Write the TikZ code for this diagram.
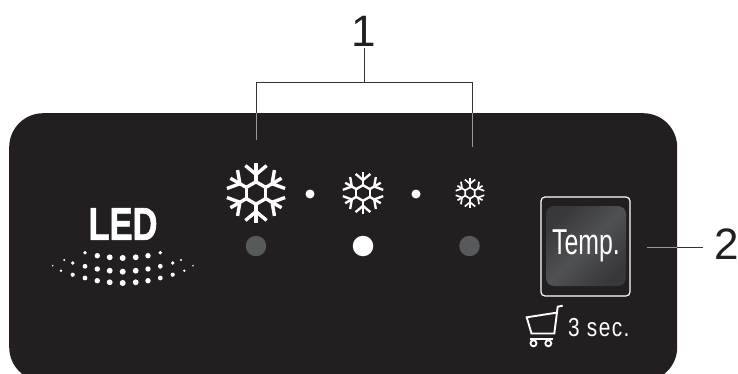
\documentclass[tikz,border=0pt]{standalone}
\usepackage{fontspec}
\setmainfont{Liberation Sans}
\definecolor{panel}{HTML}{231F20}
\definecolor{dimled}{HTML}{58595B}
\definecolor{keymid}{HTML}{505153}
\definecolor{keyedge}{HTML}{38383A}
\definecolor{leadgray}{HTML}{9A9A9A}
\tikzset{
  x=1pt,y=-1pt,
  lead/.style={line width=0.9pt,draw=black!80},
  leadin/.style={line width=0.9pt,draw=leadgray},
  callout/.style={inner sep=0pt,font=\fontsize{44}{44}\selectfont,text=panel},
  led/.style={circle,inner sep=0pt,minimum size=20.5pt},
  sep dot/.style={circle,fill=white,inner sep=0pt,minimum size=9pt},
  pics/flake/.style={code={
    \foreach \a in {30,90,150,210,270,330}{
      \begin{scope}[rotate=\a]
        \draw[white,line width=#1*0.115pt]
          (#1*0.38,0) -- (#1*1.0,0);
        \draw[white,line width=#1*0.115pt]
          (#1*0.93,#1*0.36) -- (#1*0.63,0) -- (#1*0.93,-#1*0.36);
        \draw[white,line width=#1*0.115pt,line cap=round]
          (#1*0.38,0) -- ++(120:#1*0.38);
      \end{scope}
    }
  }},
}
\newcommand{\ledspot}[3]{\fill[white] (#1,#2) circle[radius=#3pt];}
\begin{document}
\begin{tikzpicture}
\useasboundingbox (0,0) rectangle (738,374);
\begin{scope}
\clip (0,0) rectangle (738,374);
\node[fill=panel,rounded corners=34pt,minimum width=668pt,minimum height=268pt,inner sep=0pt,anchor=north west] (panel) at (9,113) {};
\end{scope}
% callouts
\node[callout] (one) at (364,31) {1};
\node[callout] (two) at (727,244) {2};
\coordinate (barmid) at (364,82);
\coordinate (barl) at (256,82);
\coordinate (barr) at (472,82);
\coordinate (edgel) at (256,113);
\coordinate (edger) at (472,113);
\coordinate (endl) at (256,140);
\coordinate (endr) at (472,147);
\coordinate (tworight) at (703,247);
\coordinate (twomid) at (677,247);
\coordinate (twoleft) at (647,247);
\draw[lead] (364,48) -- (barmid);
\draw[lead] (edgel) -- (barl) -- (barr) -- (edger);
\draw[leadin] (edgel) -- (endl);
\draw[leadin] (edger) -- (endr);
\draw[lead] (tworight) -- (twomid);
\draw[leadin] (twomid) -- (twoleft);
% snowflakes
\pic at (256,193) {flake=29.5};
\pic at (363,193) {flake=20.5};
\pic at (470,193) {flake=14.5};
\node[sep dot] (d1) at (310,194) {};
\node[sep dot] (d2) at (416,194) {};
\node[led,fill=dimled] (l1) at (256,246) {};
\node[led,fill=white] (l2) at (363,246) {};
\node[led,fill=dimled] (l3) at (469.5,246) {};
% LED label
\node[inner sep=0pt,text=white] (ledtxt) at (123,224) {\scalebox{0.75}[1]{\fontsize{46}{46}\selectfont\addfontfeature{FakeBold=1.5}\bfseries LED}};
\foreach \x/\y/\r in {
 85/252.7/1.9, 97.3/255.7/2.7, 109.7/257.3/2.9, 122.7/258/3, 135.7/257.3/2.9, 148/255.7/2.7, 160.3/252.7/1.9,
 72.7/263/1.9, 85/266.3/2.4, 97.3/269/2.7, 109.7/270.7/2.9, 122.7/271.7/3, 135.7/270.7/2.9, 148/269/2.7, 160.3/266.3/2.4, 172.7/263/1.9,
 72.7/274.7/2.1, 85/278/2.4, 97.3/280.7/2.7, 109.7/282.3/2.9, 122.7/283/3, 135.7/282.3/2.9, 148/280.7/2.7, 160.3/278/2.4, 172.7/274.7/2.1,
 64.3/260/1.1, 181/260/1.1, 52.7/265.7/0.9, 193/265.7/0.9, 61/270.7/1.3, 184.3/270.7/1.3}
 {\ledspot{\x}{\y}{\r}}
% button
\node[draw=white,line width=1.2pt,rounded corners=4pt,minimum width=89pt,minimum height=99pt,inner sep=0pt] (keyframe) at (585.5,246.5) {};
\node[rounded corners=8pt,minimum width=80pt,minimum height=80pt,inner sep=0pt,
  left color=keyedge,right color=keyedge,middle color=keymid,shading angle=45,
  text=white] (key) at (586,246) {\scalebox{0.69}[1]{\fontsize{36}{36}\selectfont Temp.}};
% cart
\node[inner sep=0pt,text=white,anchor=west] (sec) at (568,328) {\scalebox{0.8}[1]{\fontsize{26}{26}\selectfont\addfontfeature{LetterSpace=7} 3 sec.}};
\begin{scope}[white,line width=1.9pt]
\draw (562.7,305.7) -- (557.7,306.7) -- (554.3,333.5) -- (531.5,333.5) -- (526.7,317.3) -- (556.5,312.7);
\draw (529.5,339) -- (553,339);
\draw[line width=1.8pt] (533.5,343.3) circle[radius=3];
\draw[line width=1.8pt] (548.3,343.3) circle[radius=3];
\end{scope}
\end{tikzpicture}
\end{document}
